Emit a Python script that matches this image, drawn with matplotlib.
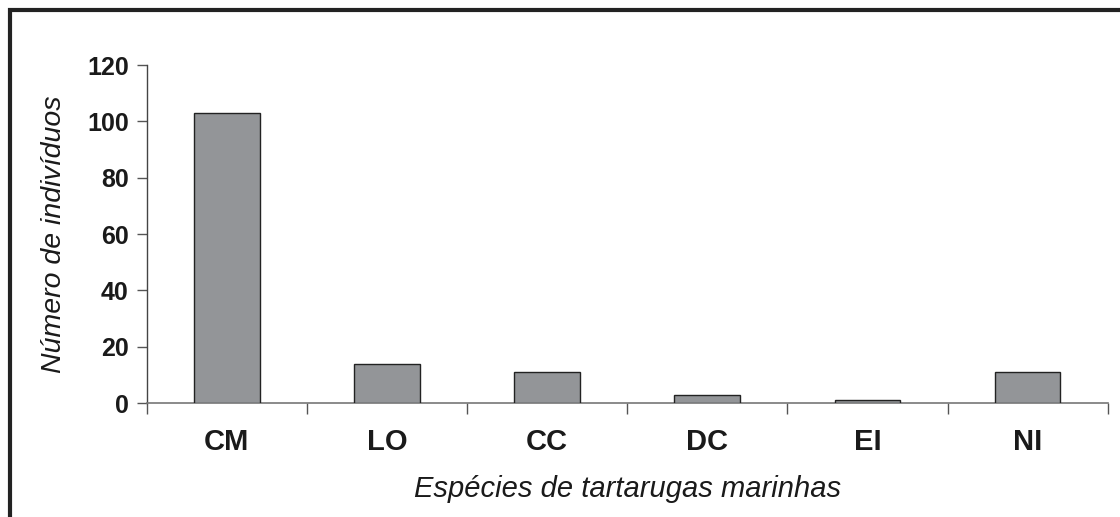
import matplotlib

matplotlib.use("Agg")
import matplotlib.pyplot as plt
from matplotlib.lines import Line2D
import numpy as np

species = ["CM", "LO", "CC", "DC", "EI", "NI"]
counts = [103, 14, 11, 3, 1, 11]
yticks = [0, 20, 40, 60, 80, 100, 120]

plt.rcParams["font.family"] = ["Liberation Sans", "DejaVu Sans"]

fig = plt.figure(figsize=(11.2, 5.17), dpi=100)
ax = fig.add_axes([0.131, 0.2205, 0.858, 0.6535])

x = np.arange(len(species))
ax.bar(x, counts, width=0.41, color="#939598", edgecolor="#222222", linewidth=1.0, zorder=3)

ax.set_xlim(-0.5, len(species) - 0.5)
ax.set_ylim(0, 120)
ax.set_yticks(yticks)
ax.set_yticklabels([str(v) for v in yticks], fontsize=18, fontweight="bold", color="#1a1a1a")
ax.set_xticks(x)
ax.set_xticklabels(species, fontsize=21, fontweight="bold", color="#1a1a1a")
ax.tick_params(axis="x", length=0, pad=18)
ax.tick_params(axis="y", length=7, width=1.0, color="#555555", pad=6)

# category boundary ticks on the x axis
ax.set_xticks(np.arange(-0.5, len(species)), minor=True)
ax.tick_params(axis="x", which="minor", length=8, width=1.0, color="#555555")

for side in ["top", "right"]:
    ax.spines[side].set_visible(False)
ax.spines["left"].set_color("#444444")
ax.spines["bottom"].set_color("#777777")
ax.spines["left"].set_linewidth(1.0)
ax.spines["bottom"].set_linewidth(1.2)

ax.set_ylabel("Número de indivíduos", fontsize=20.5, style="italic", color="#1a1a1a", labelpad=14)
ax.set_xlabel("Espécies de tartarugas marinhas", fontsize=21, style="italic", color="#1a1a1a", labelpad=14)

# outer frame (top and left edges only)
fx = 10 / 1120
fy = 1 - 10 / 517
fig.add_artist(Line2D([fx, fx, 1.0], [0.0, fy, fy], transform=fig.transFigure,
                      color="#222222", linewidth=3.0, solid_joinstyle="miter"))

fig.savefig("out.png", dpi=100)
